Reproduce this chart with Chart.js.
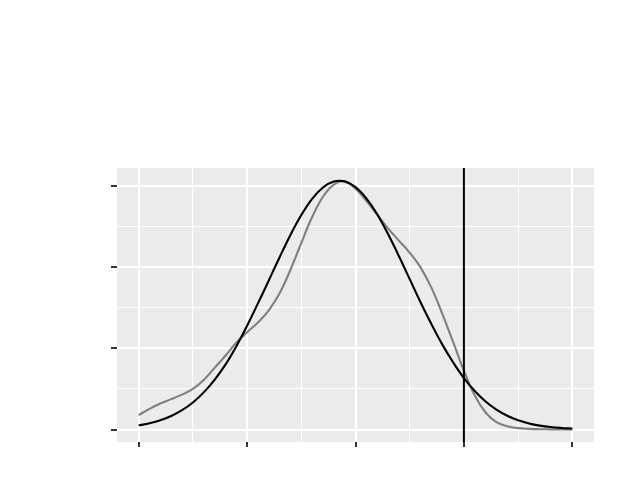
<!DOCTYPE html>
<html>
<head>
<meta charset="utf-8">
<script src="https://cdn.jsdelivr.net/npm/chart.js@4.4.0/dist/chart.umd.min.js"></script>
<style>
  body { margin: 0; background: #ffffff; }
  canvas { display: block; }
</style>
</head>
<body>
<canvas id="densityChart" width="634" height="503"></canvas>
<script>
// x positions where the curves were read
const xValues = [0.0, 0.1, 0.2, 0.3, 0.4, 0.5, 0.6, 0.7, 0.8, 0.9,
                 1.0, 1.1, 1.2, 1.3, 1.4, 1.5, 1.6, 1.7, 1.8, 1.9,
                 2.0, 2.1, 2.2, 2.3, 2.4, 2.5, 2.6, 2.7, 2.8, 2.9,
                 3.0, 3.1, 3.2, 3.3, 3.4, 3.5, 3.6, 3.7, 3.8, 3.9, 4.0];

// empirical density (grey)
const densityValues = [0.178, 0.255, 0.32, 0.375, 0.43, 0.50, 0.61, 0.76, 0.91, 1.07,
                       1.20, 1.32, 1.47, 1.68, 1.97, 2.30, 2.62, 2.87, 3.02, 3.06,
                       2.97, 2.82, 2.65, 2.48, 2.33, 2.18, 2.00, 1.75, 1.43, 1.08,
                       0.725, 0.42, 0.21, 0.09, 0.04, 0.017, 0.008, 0.004, 0.002, 0.001, 0.0];

// fitted normal curve (black)
const normalValues = [0.052, 0.077, 0.113, 0.166, 0.238, 0.333, 0.458, 0.613, 0.80, 1.025,
                      1.28, 1.555, 1.838, 2.125, 2.40, 2.645, 2.845, 2.985, 3.058, 3.06,
                      2.99, 2.85, 2.655, 2.41, 2.14, 1.855, 1.57, 1.30, 1.05, 0.83,
                      0.635, 0.475, 0.345, 0.245, 0.17, 0.114, 0.075, 0.048, 0.03, 0.019, 0.012];

// vertical reference line
const refLineX = 3;

// axis ticks (no labels shown)
const xMajorTicks = [0, 1, 2, 3, 4];
const xMinorTicks = [0.5, 1.5, 2.5, 3.5];
const yMajorTicks = [0, 1, 2, 3];
const yMinorTicks = [0.5, 1.5, 2.5];

const xMin = -0.2, xMax = 4.2;
const yMin = -0.154, yMax = 3.225;

const toPoints = (ys) => xValues.map((x, i) => ({ x: x, y: ys[i] }));

// grey panel background
const panelBackground = {
    id: 'panelBackground',
    beforeDraw(chart) {
        const { ctx, chartArea } = chart;
        ctx.save();
        ctx.fillStyle = '#EBEBEB';
        ctx.fillRect(chartArea.left, chartArea.top, chartArea.right - chartArea.left, chartArea.bottom - chartArea.top);
        ctx.restore();
    }
};

const setTicks = (majors, minors) => (scale) => {
    scale.ticks = [...majors, ...minors].sort((a, b) => a - b).map(v => ({ value: v }));
};

const isMajor = (majors) => (c) => c.tick && majors.includes(c.tick.value);

const gridFor = (majors, tickLen) => ({
    color: '#FFFFFF',
    lineWidth: (c) => isMajor(majors)(c) ? 2 : 1,
    drawTicks: true,
    tickLength: tickLen,
    tickColor: (c) => isMajor(majors)(c) ? '#333333' : 'rgba(0,0,0,0)',
    tickWidth: 2
});

const ctx = document.getElementById('densityChart').getContext('2d');
new Chart(ctx, {
    type: 'line',
    data: {
        datasets: [
            {
                data: [{ x: refLineX, y: yMin }, { x: refLineX, y: yMax }],
                borderColor: '#000000',
                borderWidth: 2,
                pointRadius: 0,
                tension: 0
            },
            {
                data: toPoints(normalValues),
                borderColor: '#000000',
                borderWidth: 2.1,
                pointRadius: 0,
                tension: 0.4
            },
            {
                data: toPoints(densityValues),
                borderColor: '#7F7F7F',
                borderWidth: 2.1,
                pointRadius: 0,
                tension: 0.4
            }
        ]
    },
    options: {
        responsive: false,
        animation: false,
        layout: { padding: { left: 111, right: 40, top: 168, bottom: 56 } },
        plugins: { legend: { display: false }, tooltip: { enabled: false } },
        scales: {
            x: {
                type: 'linear',
                min: xMin,
                max: xMax,
                afterBuildTicks: setTicks(xMajorTicks, xMinorTicks),
                ticks: { display: false },
                grid: gridFor(xMajorTicks, 5),
                border: { display: false }
            },
            y: {
                type: 'linear',
                min: yMin,
                max: yMax,
                afterBuildTicks: setTicks(yMajorTicks, yMinorTicks),
                ticks: { display: false },
                grid: gridFor(yMajorTicks, 6),
                border: { display: false }
            }
        }
    },
    plugins: [panelBackground]
});
</script>
</body>
</html>
